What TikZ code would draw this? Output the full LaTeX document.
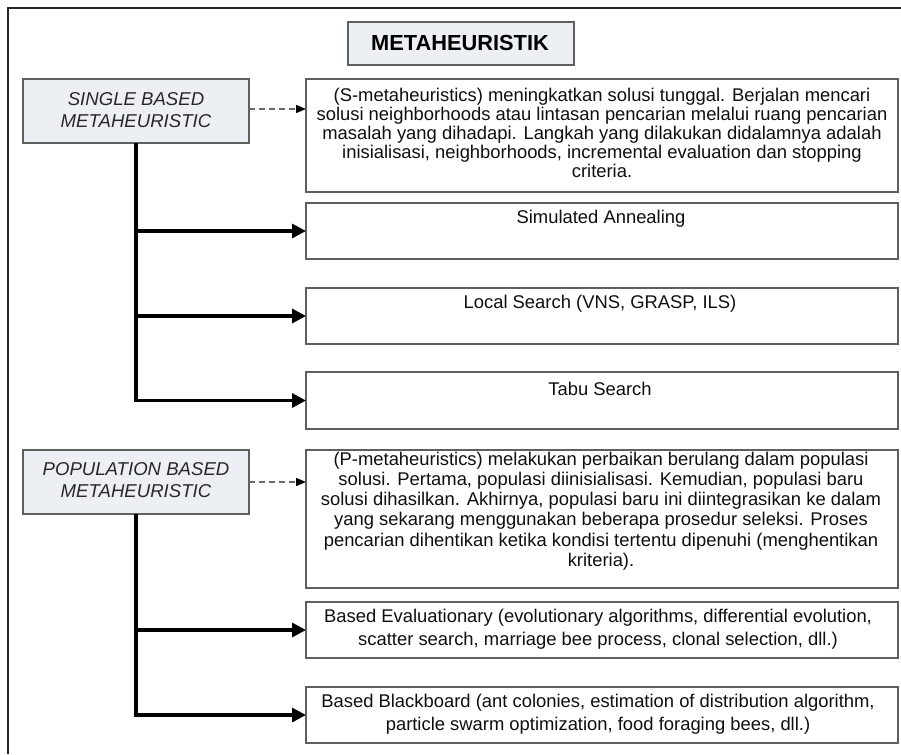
\documentclass[tikz,border=0pt]{standalone}
\usepackage{fontspec}
\setmainfont{Liberation Sans}
\usetikzlibrary{arrows.meta}

\definecolor{boxfill}{RGB}{236,239,244}
\definecolor{boxline}{RGB}{95,95,95}
\definecolor{dashline}{RGB}{105,105,105}
\definecolor{ink}{RGB}{15,15,15}
\definecolor{headink}{RGB}{40,40,40}

\begin{document}
\begin{tikzpicture}[x=1pt,y=-1pt,
  every node/.style={inner sep=0pt, outer sep=0pt},
  plainbox/.style={draw=boxline, line width=1.2pt, fill=white, anchor=north west, rectangle},
  headbox/.style={plainbox, fill=boxfill},
  bodytext/.style={text=ink, align=center, font=\fontsize{18.4}{19}\selectfont},
  headtext/.style={text=headink, align=center, font=\fontsize{18.6}{22}\selectfont\itshape},
  tree/.style={line width=3.2pt, -{Triangle[length=14pt,width=14pt]}},
  hint/.style={draw=dashline, line width=1.4pt, dash pattern=on 6pt off 4pt,
    -{Triangle[length=10pt,width=8pt,fill=black,color=black]}},
  frame/.style={line width=2pt, draw=black!85}
]
\useasboundingbox (0,0) rectangle (901,754);

% outer frame (left and top edges)
\draw[frame] (8,754) -- (8,8) -- (901,8);

% title
\node[headbox, minimum width=226, minimum height=43] (title) at (348,22) {};
\node[text=black, font=\fontsize{21.8}{24}\selectfont\bfseries] (titletext) at (460,42.5) {METAHEURISTIK};

% single based branch
\node[headbox, minimum width=226, minimum height=64] (single) at (23,79) {};
\node[headtext] (singletext) at (136,110) {SINGLE BASED\\METAHEURISTIC};

\node[plainbox, minimum width=592, minimum height=113] (desc1) at (306,79) {};
\node[bodytext] (desc1text) at (602,133) {(S-metaheuristics) meningkatkan solusi tunggal. Berjalan mencari\\
solusi neighborhoods atau lintasan pencarian melalui ruang pencarian\\
masalah yang dihadapi. Langkah yang dilakukan didalamnya adalah\\
inisialisasi, neighborhoods, incremental evaluation dan stopping\\
criteria.};

\node[plainbox, minimum width=592, minimum height=56] (sa) at (306,203) {};
\node[bodytext] (satext) at (601,219) {Simulated Annealing};

\node[plainbox, minimum width=592, minimum height=56] (ls) at (306,288) {};
\node[bodytext] (lstext) at (600,304) {Local Search (VNS, GRASP, ILS)};

\node[plainbox, minimum width=592, minimum height=57] (tabu) at (306,372) {};
\node[bodytext] (tabutext) at (600,389) {Tabu Search};

% population based branch
\node[headbox, minimum width=226, minimum height=64] (pop) at (23,450) {};
\node[headtext] (poptext) at (136,480) {POPULATION BASED\\METAHEURISTIC};

\node[plainbox, minimum width=592, minimum height=138] (desc2) at (306,450) {};
\node[bodytext, font=\fontsize{18.4}{20.2}\selectfont] (desc2text) at (601,511) {(P-metaheuristics) melakukan perbaikan berulang dalam populasi\\
solusi. Pertama, populasi diinisialisasi. Kemudian, populasi baru\\
solusi dihasilkan. Akhirnya, populasi baru ini diintegrasikan ke dalam\\
yang sekarang menggunakan beberapa prosedur seleksi. Proses\\
pencarian dihentikan ketika kondisi tertentu dipenuhi (menghentikan\\
kriteria).};

\node[plainbox, minimum width=592, minimum height=56] (evo) at (306,602) {};
\node[bodytext, font=\fontsize{18.4}{23.5}\selectfont] (evotext) at (598,629) {Based Evaluationary (evolutionary algorithms, differential evolution,\\
scatter search, marriage bee process, clonal selection, dll.)};

\node[plainbox, minimum width=592, minimum height=56] (bb) at (306,687) {};
\node[bodytext, font=\fontsize{18.4}{23}\selectfont] (bbtext) at (598,714) {Based Blackboard (ant colonies, estimation of distribution algorithm,\\
particle swarm optimization, food foraging bees, dll.)};

% connectors
\draw[hint] (single.east |- 0,109) -- (desc1.west |- 0,109);
\draw[hint] (pop.east) -- (pop.east -| desc2.west);

\draw[tree] (single.south) |- (tabu.west);
\draw[tree] (single.south |- sa.west) -- (sa.west);
\draw[tree] (single.south |- ls.west) -- (ls.west);

\draw[tree] (pop.south) |- (bb.west);
\draw[tree] (pop.south |- evo.west) -- (evo.west);
\end{tikzpicture}
\end{document}
